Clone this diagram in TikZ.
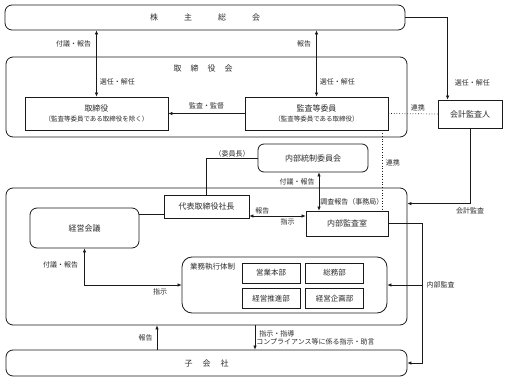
\documentclass[tikz,border=0pt]{standalone}
\usepackage{fontspec}
\setmainfont{Noto Sans CJK JP}
\usetikzlibrary{positioning,arrows.meta,calc}
\definecolor{lineCol}{HTML}{1a1a1a}
\definecolor{textCol}{HTML}{2b2b2b}

\begin{document}
\begin{tikzpicture}[
  x=1pt, y=-1pt,
  font=\fontsize{8}{9.5}\selectfont,
  text=textCol,
  group/.style={draw=lineCol, line width=0.8pt, rounded corners=7pt, minimum width=401pt, inner sep=0pt},
  unit/.style={draw=lineCol, line width=0.8pt, align=center, inner sep=1pt},
  dept/.style={draw=lineCol, line width=0.7pt, minimum width=58pt, minimum height=20pt, inner sep=1pt, font=\fontsize{7.5}{8}\selectfont},
  lbl/.style={font=\fontsize{7}{8}\selectfont, inner sep=1pt},
  subtxt/.style={font=\fontsize{6.5}{7}\selectfont},
  arr/.style={-{Latex[length=4pt,width=3.5pt]}, draw=lineCol, line width=0.6pt},
  darr/.style={{Latex[length=4pt,width=3.5pt]}-{Latex[length=4pt,width=3.5pt]}, draw=lineCol, line width=0.6pt},
  link/.style={draw=lineCol, line width=0.6pt},
  coop/.style={draw=lineCol, line width=0.7pt, dotted}
]
\useasboundingbox (0,0) rectangle (507,380);

% ============================================================
% SHAREHOLDERS MEETING + BOARD OF DIRECTORS
% ============================================================
\node[group, minimum width=400pt, minimum height=25pt] (soukai) at (205,17.5) {株\hspace{26pt}主\hspace{26pt}総\hspace{26pt}会};
\node[group, minimum height=80pt] (torikai) at (206.5,97) {};
\node (torikaiTitle) at (203,68) {取\hspace{9pt}締\hspace{9pt}役\hspace{9pt}会};
\node[unit, minimum width=143pt, minimum height=33pt] (tori) at (96.5,113.5) {取締役\\[1pt]{\fontsize{6.5}{7}\selectfont （監査等委員である取締役を除く）}};
\node[unit, minimum width=143pt, minimum height=33pt] (kansa) at (316.5,113.5) {監査等委員\\[1pt]{\fontsize{6.5}{7}\selectfont （監査等委員である取締役）}};
\node[unit, minimum width=64pt, minimum height=28pt] (kaikei) at (470,114) {会計監査人};
\node[unit, rounded corners=6pt, minimum width=110pt, minimum height=28pt] (naibu) at (313,158) {内部統制委員会};

% ============================================================
% EXECUTION SIDE
% ============================================================
\node[group, minimum height=137pt] (exec) at (206.5,256.5) {};
\node[unit, minimum width=85pt, minimum height=23pt] (shacho) at (206.5,206.5) {代表取締役社長};
\node[unit, rounded corners=7pt, minimum width=109pt, minimum height=40pt] (keiei) at (84.5,228) {経営会議};
\node[unit, minimum width=82pt, minimum height=25pt] (naikan) at (347,223.5) {内部監査室};
\node[unit, rounded corners=10pt, minimum width=205pt, minimum height=56pt] (gyomu) at (284.5,285) {};
\node[lbl, anchor=north west, font=\fontsize{7.5}{8}\selectfont] (gyomuTitle) at (189,262) {業務執行体制};
\node[dept] (eigyo) at (271,273) {営業本部};
\node[dept, right=5pt of eigyo] (somu) {総務部};
\node[dept, below=5pt of eigyo] (suishin) {経営推進部};
\node[dept, right=5pt of suishin] (kikaku) {経営企画部};

\node[group, minimum height=26pt] (kogaisha) at (206.5,363) {子\hspace{10pt}会\hspace{10pt}社};

% ============================================================
% CONNECTORS
% ============================================================
\draw[darr] (tori.north) -- node[lbl, pos=0.8, left, xshift=-4pt]{付議・報告} node[lbl, pos=0.22, right, xshift=2pt]{選任・解任} (tori.north |- soukai.south);
\draw[darr] (kansa.north) -- node[lbl, pos=0.8, left, xshift=-4pt]{報告} node[lbl, pos=0.22, right, xshift=2pt]{選任・解任} (kansa.north |- soukai.south);
\draw[arr] (kansa.west) -- node[lbl, above, yshift=3pt]{監査・監督} (tori.east);
\draw[arr] (soukai.east) -| node[lbl, pos=0.9, right, xshift=6pt]{選任・解任} ([xshift=10pt]kaikei.north west);
\draw[coop] (kansa.east) -- node[lbl, pos=0.6, above, yshift=1pt]{連携} (kaikei.west);
\draw[coop] ([xshift=-6pt]kansa.south east) -- node[lbl, pos=0.4, right, xshift=2pt]{連携} ([xshift=-6pt]naikan.north east);
\draw[arr] (kaikei.south) |- node[lbl, pos=0.5, below, yshift=-3pt]{会計監査} ([yshift=-16pt]exec.north east);

\draw[link] (shacho.north) |- node[lbl, pos=0.75, above]{（委員長）} (naibu.west);
\draw[link] ([yshift=-8pt]shacho.west) -- ([yshift=-8pt]shacho.west -| keiei.east);
\draw[darr] ([yshift=-9.5pt]shacho.east) -- node[lbl, pos=0.23, above, yshift=1pt]{報告} node[lbl, pos=0.68, below, yshift=-1pt]{指示} ([yshift=-9.5pt]shacho.east -| naikan.west);
\draw[darr] ([xshift=6pt]naibu.south) -- node[lbl, pos=0.26, left, xshift=-3pt]{付議・報告} node[lbl, pos=0.77, right]{調査報告（事務局）} ([xshift=6pt]naibu.south |- naikan.north);

\coordinate (audit) at ([xshift=34pt]naikan.east);
\draw[arr] (naikan.east) -- (audit) |- (kogaisha.east);
\draw[arr] (audit |- gyomu.east) node[lbl, right=3pt]{内部監査} -- (gyomu.east);

\draw[darr] (keiei.south) |- node[lbl, pos=0.22, left, xshift=-5pt]{付議・報告} node[lbl, pos=0.89, below, yshift=-2pt]{指示} (gyomu.west);

\draw[arr] ([xshift=-49.5pt]kogaisha.north) -- node[lbl, left, xshift=-3pt]{報告} ([xshift=-49.5pt]exec.south);
\draw[arr] ([xshift=48.5pt]exec.south) -- node[lbl, right, align=left, xshift=0pt]{\hspace{3pt}指示・指導\\コンプライアンス等に係る指示・助言} ([xshift=48.5pt]kogaisha.north);

\end{tikzpicture}
\end{document}
